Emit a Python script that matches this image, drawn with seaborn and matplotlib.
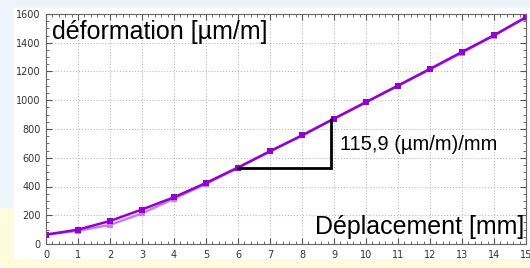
import matplotlib
matplotlib.use("Agg")
import matplotlib.pyplot as plt
from matplotlib.patches import Rectangle
from matplotlib.ticker import MultipleLocator
import seaborn as sns
import pandas as pd

# data
deplacement = list(range(16))
aller = [65, 100, 160, 240, 325, 425, 532, 645, 755, 872, 987, 1102, 1218, 1336, 1452, 1578]
retour = [65, 92, 133, 213, 315, 418, 530, 645, 755, 870, 985, 1100, 1215, 1330, 1450, 1575]
pente_x = [6, 8.9]
pente_y = [530, 870]
pente_txt = "115,9 (µm/m)/mm"

sns.set_style("ticks")
plt.rcParams['font.family'] = ['Liberation Sans', 'DejaVu Sans']

fig = plt.figure(figsize=(5.3, 2.68), dpi=100, facecolor='#eef4fb')
W, H = 530, 268
# background pieces (slide look)
fig.patches.append(Rectangle((0, 0), 1, 60 / H, transform=fig.transFigure,
                             color='#fffbdc', zorder=-10))
fig.patches.append(Rectangle((14 / W, 10 / H), 1, 250 / H, transform=fig.transFigure,
                             color='white', zorder=-9))

ax = fig.add_axes([46 / W, 24 / H, 480 / W, 230 / H])

# lighter curve first, darker one on top
df = pd.DataFrame({'x': deplacement + deplacement,
                   'y': retour + aller,
                   's': ['retour'] * 16 + ['aller'] * 16})
sns.lineplot(data=df, x='x', y='y', hue='s', hue_order=['retour', 'aller'],
             palette={'aller': '#9400d3', 'retour': '#c77ee8'},
             marker='s', markersize=4.5, markeredgewidth=0, linewidth=1.8,
             legend=False, ax=ax, sort=False)

# slope triangle
ax.plot([pente_x[0], pente_x[1], pente_x[1]], [pente_y[0], pente_y[0], pente_y[1]],
        color='black', lw=2, solid_joinstyle='miter')
ax.text(9.2, 690, pente_txt, fontsize=14.5, va='center', ha='left', color='black')

ax.text(0.013, 0.975, "déformation [µm/m]", transform=ax.transAxes, fontsize=18,
        va='top', ha='left', color='black')
ax.text(0.996, 0.02, "Déplacement [mm]", transform=ax.transAxes, fontsize=18,
        va='bottom', ha='right', color='black')

ax.set_xlim(0, 15)
ax.set_ylim(0, 1600)
ax.xaxis.set_major_locator(MultipleLocator(1))
ax.xaxis.set_minor_locator(MultipleLocator(0.2))
ax.yaxis.set_major_locator(MultipleLocator(200))
ax.yaxis.set_minor_locator(MultipleLocator(50))
ax.tick_params(which='both', direction='in', top=True, right=True, colors='#555555',
               labelcolor='#333333', labelsize=7, pad=4)
for lab in ax.get_xticklabels() + ax.get_yticklabels():
    lab.set_fontfamily('DejaVu Sans')
ax.tick_params(which='major', length=4)
ax.tick_params(which='minor', length=2)
ax.grid(True, which='major', color='#bbbbbb', linestyle=':', linewidth=0.8)
ax.set_xlabel('')
ax.set_ylabel('')
for sp in ax.spines.values():
    sp.set_color('#666666')
    sp.set_linewidth(0.8)

fig.savefig('out.png', dpi=100, facecolor=fig.get_facecolor())
